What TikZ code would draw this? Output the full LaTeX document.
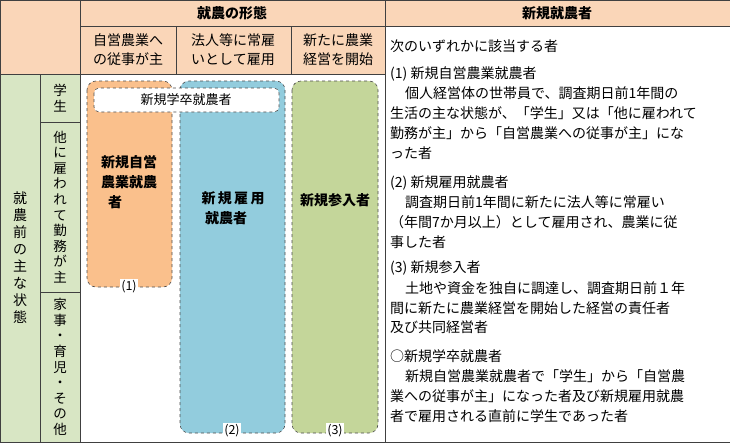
\documentclass[tikz,border=0pt]{standalone}
\usepackage{fontspec}
\setmainfont{Noto Sans CJK JP}
\definecolor{hdr}{RGB}{250,214,184}
\definecolor{lft}{RGB}{216,230,196}
\definecolor{orng}{RGB}{250,192,140}
\definecolor{blu}{RGB}{146,204,221}
\definecolor{grn}{RGB}{196,214,154}
\tikzset{
  cell/.style={draw=black!75, line width=0.6pt},
  kind/.style={draw=black!70, dashed, line width=0.6pt, rounded corners=9pt},
  numlbl/.style={fill=white, inner sep=1.5pt, font=\fontsize{12.5}{12.5}\selectfont},
  txt/.style={anchor=west, inner sep=0pt, font=\fontsize{14}{14}\selectfont},
  vtxt/.style={align=center, inner sep=0pt, font=\fontsize{13.5}{15.6}\selectfont},
}
\begin{document}
\begin{tikzpicture}[x=1pt,y=1pt,yscale=-1]
\useasboundingbox (0,0) rectangle (730,442);
\fill[white] (0,0) rectangle (730,442);

% header cells
\fill[hdr] (0,0) rectangle (385,74) (385,0) rectangle (730,26);
\fill[lft] (0,74) rectangle (80,442);
\draw[cell] (0,0) rectangle (730,442);
\draw[cell] (80,0) -- (80,442) (385,0) -- (385,442) (80,26) -- (730,26);
\draw[cell] (0,74) -- (385,74) (40,74) -- (40,442);
\draw[cell] (176,26) -- (176,74) (291,26) -- (291,74);
\draw[cell] (40,122) -- (80,122) (40,292) -- (80,292);

\node[font=\bfseries\fontsize{14}{14}\selectfont] (hform) at (232,13) {就農の形態};
\node[font=\bfseries\fontsize{14}{14}\selectfont] (hnew) at (557,13) {新規就農者};
\node[vtxt, font=\fontsize{14}{19}\selectfont] (h1) at (128,50) {自営農業へ\\の従事が主};
\node[vtxt, font=\fontsize{14}{19}\selectfont] (h2) at (233,50) {法人等に常雇\\いとして雇用};
\node[vtxt, font=\fontsize{14}{19}\selectfont] (h3) at (338,50) {新たに農業\\経営を開始};

% left column
\node[vtxt, font=\fontsize{14}{17}\selectfont] (prev) at (20,258) {就\\農\\前\\の\\主\\な\\状\\態};
\node[vtxt] (stud) at (60,98) {学\\生};
\node[vtxt] (empl) at (60,207) {他\\に\\雇\\わ\\れ\\て\\勤\\務\\が\\主};
\node[vtxt] (home) at (60,367) {家\\事\\・\\育\\児\\・\\そ\\の\\他};

% kinds of new farmers
\filldraw[kind, fill=orng] (87,81) rectangle (172,287);
\filldraw[kind, fill=blu] (180,81) rectangle (285,433);
\filldraw[kind, fill=grn] (292,81) rectangle (378,433);
\filldraw[kind, fill=white, rounded corners=5pt] (94,88) rectangle (279,112);
\node[font=\fontsize{13}{13}\selectfont] (grad) at (186,100) {新規学卒就農者};
\node[vtxt, font=\bfseries\fontsize{14}{20}\selectfont] (self) at (129,182) {新規自営\\農業就農\\者\phantom{就農}};
\node[vtxt, font=\bfseries\fontsize{14}{20}\selectfont] (hire) at (233,208) {新\,規\,雇\,用\\就農者\phantom{者}};
\node[font=\bfseries\fontsize{14}{14}\selectfont] (entr) at (335,200) {新規参入者};
\node[numlbl] (n1) at (129,287) {(1)};
\node[numlbl] (n2) at (232,431) {(2)};
\node[numlbl] (n3) at (335,431) {(3)};

% definitions
\node[txt] (d0) at (390,46) {次のいずれかに該当する者};
\node[txt] (d1) at (390,74) {(1) 新規自営農業就農者};
\node[txt] (d2) at (405,93) {個人経営体の世帯員で、調査期日前1年間の};
\node[txt] (d3) at (390,113) {生活の主な状態が、「学生」又は「他に雇われて};
\node[txt] (d4) at (390,133) {勤務が主」から「自営農業への従事が主」にな};
\node[txt] (d5) at (390,153) {った者};
\node[txt] (d6) at (390,183) {(2) 新規雇用就農者};
\node[txt] (d7) at (405,202) {調査期日前1年間に新たに法人等に常雇い};
\node[txt] (d8) at (390,222) {（年間7か月以上）として雇用され、農業に従};
\node[txt] (d9) at (390,242) {事した者};
\node[txt] (d10) at (390,268) {(3) 新規参入者};
\node[txt] (d11) at (405,288) {土地や資金を独自に調達し、調査期日前１年};
\node[txt] (d12) at (390,308) {間に新たに農業経営を開始した経営の責任者};
\node[txt] (d13) at (390,327) {及び共同経営者};
\node[txt] (d14) at (390,356) {○新規学卒就農者};
\node[txt] (d15) at (405,376) {新規自営農業就農者で「学生」から「自営農};
\node[txt] (d16) at (390,396) {業への従事が主」になった者及び新規雇用就農};
\node[txt] (d17) at (390,416) {者で雇用される直前に学生であった者};
\end{tikzpicture}
\end{document}
